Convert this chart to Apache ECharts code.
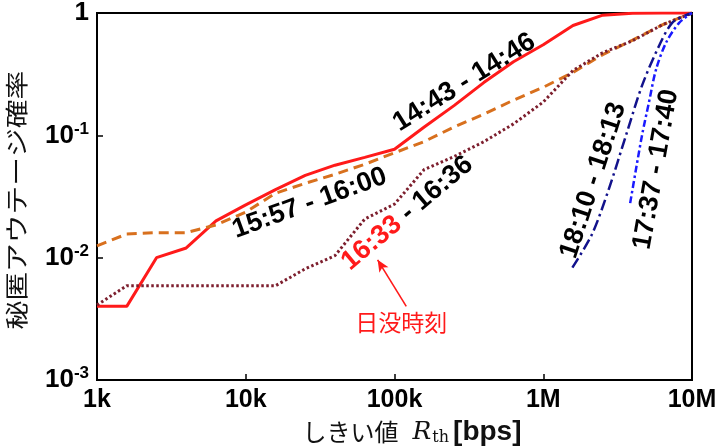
<!DOCTYPE html>
<html>
<head>
<meta charset="utf-8">
<script src="https://cdn.jsdelivr.net/npm/echarts@6/dist/echarts.min.js"></script>
<style>
html, body { margin: 0; padding: 0; background: #fff; }
#main { width: 723px; height: 448px; }
</style>
</head>
<body>
<div id="main"></div>
<script>
// threshold rate R_th [bps], sampled every 0.2 decade
var rates = [1000, 1585, 2512, 3981, 6310, 10000, 15849, 25119, 39811, 63096, 100000,
  158489, 251189, 398107, 630957, 1000000, 1584893, 2511886, 3981072, 6309573, 10000000];
var p1443 = [0.0040, 0.0040, 0.0100, 0.0120, 0.0200, 0.027, 0.036, 0.047, 0.057, 0.066, 0.077,
  0.117, 0.175, 0.27, 0.40, 0.55, 0.79, 0.96, 0.995, 1, 1];
var p1557 = [0.0125, 0.0156, 0.016, 0.016, 0.0185, 0.0236, 0.0336, 0.0405, 0.048, 0.058, 0.072,
  0.089, 0.117, 0.149, 0.194, 0.247, 0.327, 0.457, 0.60, 0.80, 1];
var p1633 = [0.0041, 0.0059, 0.0059, 0.0059, 0.0059, 0.0059, 0.0059, 0.0081, 0.0104, 0.0207, 0.0274,
  0.0526, 0.067, 0.0886, 0.124, 0.187, 0.339, 0.474, 0.593, 0.80, 1];
var rates1810 = [1570000, 2130000, 2770000, 3610000, 4620000, 6010000, 7350000, 9120000, 10000000];
var p1810 = [0.0083, 0.0156, 0.0369, 0.101, 0.256, 0.54, 0.83, 0.96, 1];
var rates1737 = [3840000, 4210000, 4620000, 5140000, 5730000, 6690000, 8190000, 10000000];
var p1737 = [0.0279, 0.0535, 0.101, 0.187, 0.345, 0.571, 0.83, 1];

var xTickLabels = ['1k', '10k', '100k', '1M', '10M'];

var notes = [
  {text: '14:43 - 14:46', x: 295000, y: 0.271, rot: 32},
  {text: '15:57 - 16:00', x: 26900, y: 0.0279, rot: 20},
  {text: '{r|16:33}{k| - 16:36}', x: 122000, y: 0.0231, rot: 40},
  {text: '18:10 - 18:13', x: 2170000, y: 0.0428, rot: 72},
  {text: '17:37 - 17:40', x: 5730000, y: 0.0526, rot: 80}
];
var sunset = {text: '日没時刻', x: 111000, y: 0.00298};
var arrowFrom = [120000, 0.0040], arrowTo = [77000, 0.0096];

function pairs(xs, ys) {
  return xs.map(function (x, i) { return [x, ys[i]]; });
}

var SANS = '"Liberation Sans", Arial, sans-serif';
var CJK = '"Noto Sans CJK JP", sans-serif';

var chart = echarts.init(document.getElementById('main'));

var option = {
  animation: false,
  grid: {left: 97, right: 31, top: 10, bottom: 68, show: true, borderColor: '#000', borderWidth: 2},
  xAxis: {
    type: 'log', logBase: 10, min: 1000, max: 10000000,
    axisLine: {lineStyle: {color: '#000', width: 2}},
    axisTick: {inside: true, length: 6, lineStyle: {color: '#000', width: 1.5}},
    minorTick: {show: false},
    splitLine: {show: false},
    axisLabel: {
      margin: 8, color: '#000', fontSize: 25, fontWeight: 'bold', fontFamily: SANS,
      showMinLabel: true, showMaxLabel: true,
      formatter: function (v) { return xTickLabels[Math.round(Math.log10(v)) - 3]; }
    }
  },
  yAxis: {
    type: 'log', logBase: 10, min: 0.001, max: 1,
    axisLine: {lineStyle: {color: '#000', width: 2}},
    axisTick: {inside: true, length: 6, lineStyle: {color: '#000', width: 1.5}},
    splitLine: {show: false},
    axisLabel: {
      margin: 8, color: '#000', showMinLabel: true, showMaxLabel: true,
      formatter: function (v) {
        var e = Math.round(Math.log10(v));
        return e === 0 ? '{b|1}' : '{b|10}{s|' + e + '}';
      },
      rich: {
        b: {fontSize: 26, fontWeight: 'bold', fontFamily: SANS, color: '#000', lineHeight: 30},
        s: {fontSize: 17, fontWeight: 'bold', fontFamily: SANS, color: '#000', lineHeight: 17, verticalAlign: 'top'}
      }
    }
  },
  series: [
    {
      name: '14:43 - 14:46', type: 'line', symbol: 'none', data: pairs(rates, p1443),
      lineStyle: {color: '#ff1a1a', width: 3},
      markLine: {
        silent: true, symbol: ['none', 'arrow'], symbolSize: [8, 12],
        label: {show: false},
        lineStyle: {color: '#ff1a1a', width: 1.6, type: 'solid'},
        data: [[{coord: arrowFrom}, {coord: arrowTo}]]
      }
    },
    {
      name: '15:57 - 16:00', type: 'line', symbol: 'none', data: pairs(rates, p1557),
      lineStyle: {color: '#d8701e', width: 3, type: [10, 6]}
    },
    {
      name: '16:33 - 16:36', type: 'line', symbol: 'none', data: pairs(rates, p1633),
      lineStyle: {color: '#7d1f2e', width: 3, type: [2.5, 2.5]}
    },
    {
      name: '18:10 - 18:13', type: 'line', symbol: 'none', data: pairs(rates1810, p1810),
      smooth: 0.3,
      lineStyle: {color: '#12128c', width: 2.5, type: [11, 4, 2.5, 4]}
    },
    {
      name: '17:37 - 17:40', type: 'line', symbol: 'none', data: pairs(rates1737, p1737),
      smooth: 0.3,
      lineStyle: {color: '#1a1aff', width: 2.5, type: [7, 3, 2.5, 3]}
    }
  ]
};

chart.setOption(option);

var graphics = notes.map(function (n) {
  var p = chart.convertToPixel({gridIndex: 0}, [n.x, n.y]);
  return {
    type: 'text', x: p[0], y: p[1], rotation: n.rot * Math.PI / 180, z: 100,
    style: {
      text: n.text, align: 'center', verticalAlign: 'middle',
      fontSize: 27, fontWeight: 'bold', fontFamily: SANS, fill: '#000',
      rich: {
        r: {fontSize: 27, fontWeight: 'bold', fontFamily: SANS, fill: '#ff1a1a', color: '#ff1a1a'},
        k: {fontSize: 27, fontWeight: 'bold', fontFamily: SANS, fill: '#000', color: '#000'}
      }
    }
  };
});
var sp = chart.convertToPixel({gridIndex: 0}, [sunset.x, sunset.y]);
graphics.push({
  type: 'text', x: sp[0], y: sp[1], z: 100,
  style: {text: sunset.text, align: 'center', verticalAlign: 'middle', fontSize: 23, fontFamily: CJK, fill: '#ff1a1a'}
});
// axis names
graphics.push({
  type: 'text', x: 16, y: 200, rotation: Math.PI / 2, scaleX: 1.25,
  style: {text: '秘匿アウテージ確率', align: 'center', verticalAlign: 'middle', fontSize: 23, fontFamily: CJK, fill: '#111'}
});
graphics.push({
  type: 'text', x: 412, y: 432,
  style: {
    text: '{a|しきい値}{r|R}{t|th}{b|[bps]}', align: 'center', verticalAlign: 'middle',
    rich: {
      a: {fontSize: 24, fontFamily: CJK, fill: '#111', color: '#111', padding: [0, 14, 0, 0]},
      r: {fontSize: 25, fontStyle: 'italic', fontFamily: '"DejaVu Serif", serif', fill: '#111', color: '#111'},
      t: {fontSize: 16, fontFamily: '"DejaVu Serif", serif', fill: '#111', color: '#111', verticalAlign: 'bottom', padding: [8, 4, 0, 1]},
      b: {fontSize: 28, fontWeight: 'bold', fontFamily: SANS, fill: '#111', color: '#111'}
    }
  }
});
chart.setOption({graphic: graphics});
</script>
</body>
</html>
